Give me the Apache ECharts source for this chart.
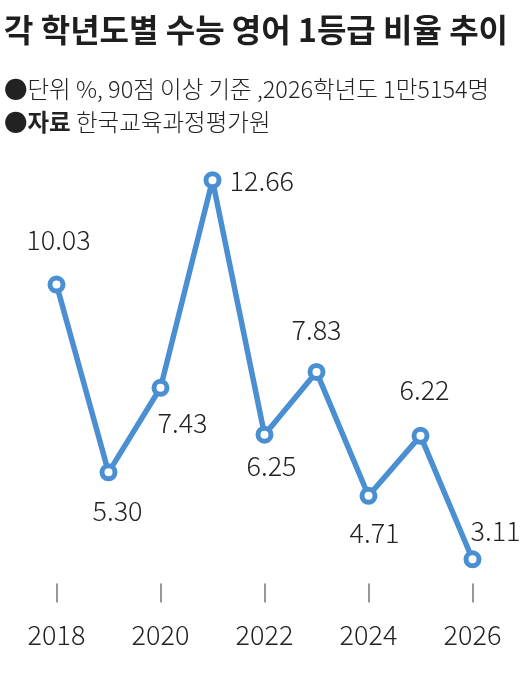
<!DOCTYPE html>
<html>
<head>
<meta charset="utf-8">
<script src="https://cdn.jsdelivr.net/npm/echarts@6/dist/echarts.min.js"></script>
<style>
    html, body { margin: 0; padding: 0; background: #fff; }
    #chart { width: 530px; height: 691px; }
</style>
</head>
<body>
<div id="chart"></div>
<script>
// 학년도 / 1등급 비율(%)
var years = ['2018', '2019', '2020', '2021', '2022', '2023', '2024', '2025', '2026'];
var rates = [10.03, 5.30, 7.43, 12.66, 6.25, 7.83, 4.71, 6.22, 3.11];
var rateLabels = ['10.03', '5.30', '7.43', '12.66', '6.25', '7.83', '4.71', '6.22', '3.11'];
// 라벨 위치 (점 기준)
var labelPos = ['top', 'bottom', 'bottom', 'right', 'bottom', 'top', 'bottom', 'top', 'top'];
var labelOffset = [[2, -14], [9, 8], [22, 4], [0, 1], [7, 1], [0, -12], [6, 6], [4, -16], [23, 2]];

var FONT = '"Noto Sans CJK KR", "Noto Sans", sans-serif';
var BLUE = '#4a8fd2';

var myChart = echarts.init(document.getElementById('chart'));

var seriesData = rates.map(function(v, i) {
    return {
        value: v,
        label: {
            position: labelPos[i],
            offset: labelOffset[i],
            formatter: rateLabels[i]
        }
    };
});

var option = {
    backgroundColor: '#fff',
    animation: false,
    title: [{
        text: '각 학년도별 수능 영어 1등급 비율 추이',
        left: -1,
        top: 9,
        textStyle: {
            fontFamily: FONT,
            fontSize: 32,
            fontWeight: 'bold',
            color: '#1e1e1e'
        }
    }, {
        text: '●단위 %, 90점 이상 기준 ,2026학년도 1만5154명\n{b|●자료} 한국교육과정평가원',
        left: -1,
        top: 68,
        textStyle: {
            fontFamily: FONT,
            fontSize: 23.5,
            fontWeight: 300,
            color: '#222',
            lineHeight: 33,
            rich: {
                b: {
                    fontFamily: FONT,
                    fontSize: 23.5,
                    fontWeight: 'bold',
                    color: '#222',
                    lineHeight: 33
                }
            }
        }
    }],
    grid: {
        left: 56.5,
        right: 57.5,
        top: 127,
        bottom: 107.5
    },
    xAxis: {
        type: 'category',
        boundaryGap: false,
        data: years,
        axisLine: { show: false },
        axisTick: {
            show: true,
            interval: 1,
            length: 19,
            lineStyle: { color: '#777', width: 1.5 }
        },
        axisLabel: {
            interval: 1,
            margin: 38,
            fontFamily: FONT,
            fontSize: 27,
            fontWeight: 300,
            color: '#222'
        }
    },
    yAxis: {
        type: 'value',
        min: 2.5,
        max: 14,
        show: false
    },
    series: [{
        type: 'line',
        data: seriesData,
        symbol: 'circle',
        symbolSize: 13,
        lineStyle: { color: BLUE, width: 5.5 },
        itemStyle: { color: '#fff', borderColor: BLUE, borderWidth: 5 },
        label: {
            show: true,
            distance: 8,
            fontFamily: FONT,
            fontSize: 27,
            fontWeight: 300,
            color: '#222'
        }
    }]
};

myChart.setOption(option);
</script>
</body>
</html>
